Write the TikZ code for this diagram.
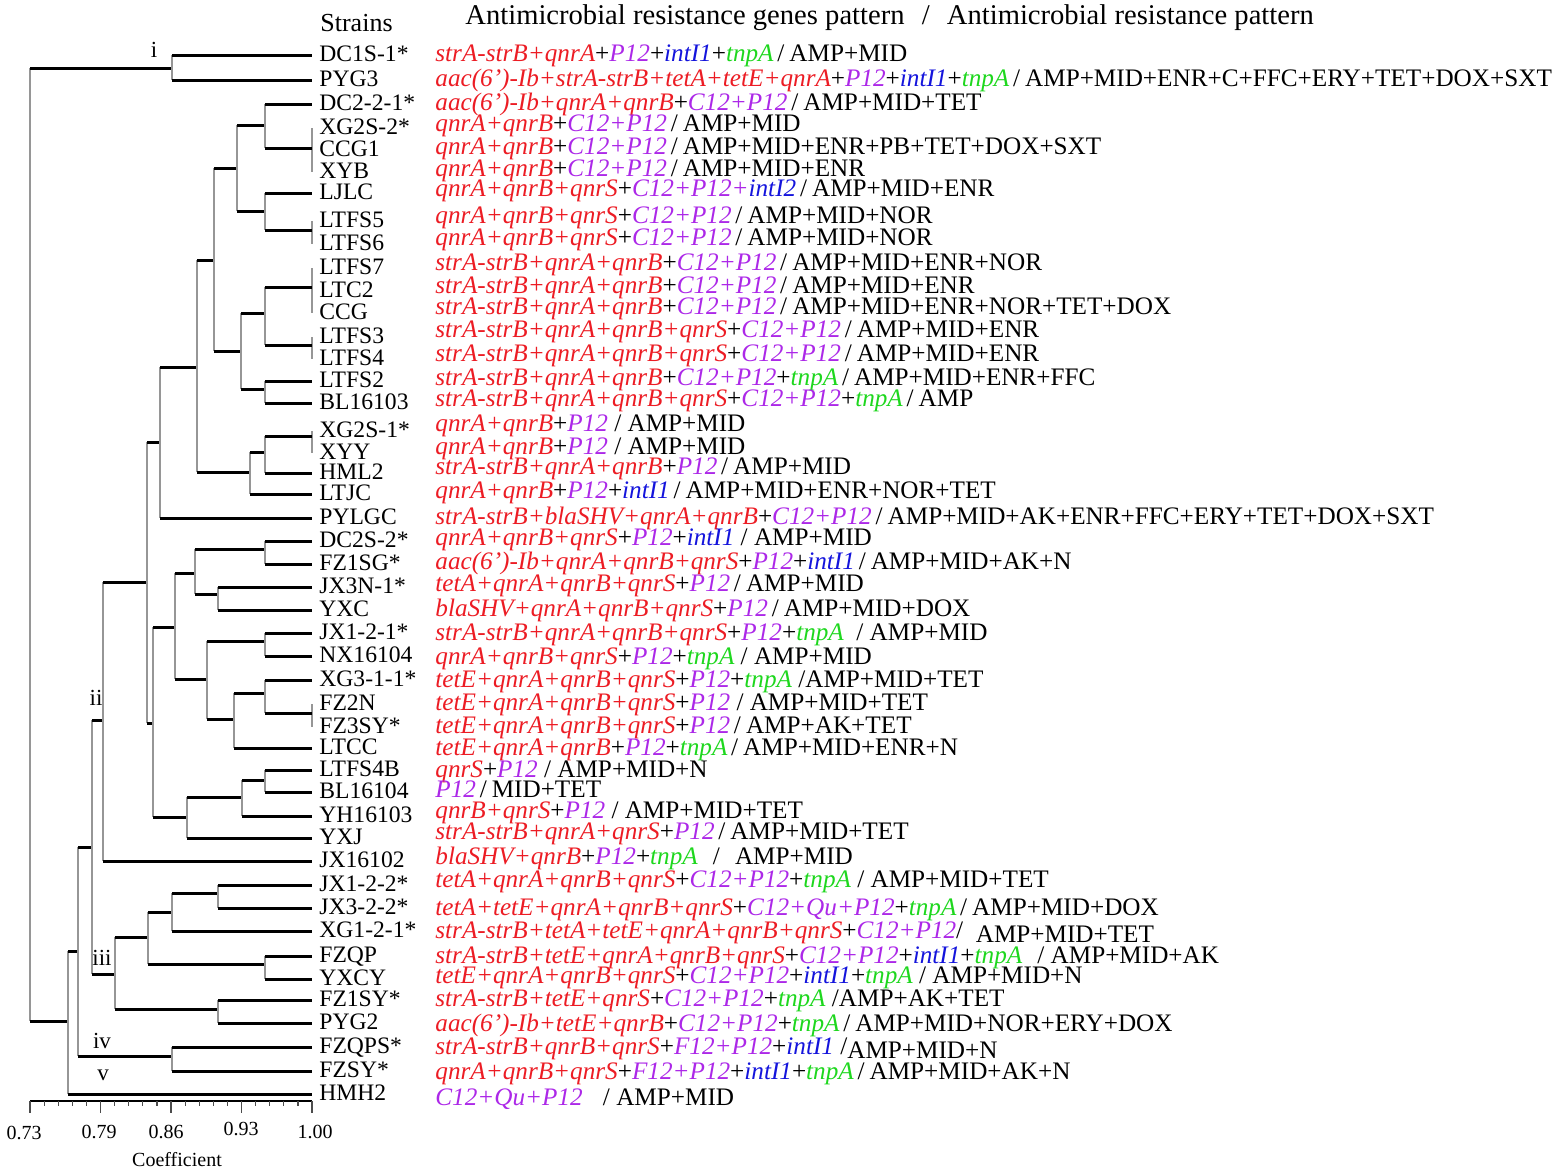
\documentclass[tikz,border=0pt]{standalone}
\usepackage{fontspec}
\setmainfont{Liberation Serif}
\usepackage{xcolor}
\usepackage{tikz}
\definecolor{genred}{RGB}{236,28,36}
\definecolor{genpur}{RGB}{172,40,232}
\definecolor{genblu}{RGB}{20,20,220}
\definecolor{gengrn}{RGB}{30,215,30}
\definecolor{stemgray}{RGB}{150,150,150}
\tikzstyle{hbranch} = [line width=1.5pt, black]
\tikzstyle{vbranch} = [line width=0.75pt, stemgray]
\tikzstyle{strainlbl} = [anchor=west, inner xsep=3.5pt, inner ysep=0pt, text height=0.66em, text depth=0pt, font=\fontsize{11.8}{13}\selectfont]
\tikzstyle{genepat} = [anchor=west, inner sep=0pt, text height=0.66em, text depth=0pt, font=\fontsize{12.6}{14}\selectfont]
\tikzstyle{headlbl} = [anchor=west, inner sep=0pt, text height=0.66em, text depth=0pt]
\tikzstyle{clusterlbl} = [inner sep=0pt, font=\fontsize{11.5}{13}\selectfont]
\tikzstyle{axlbl} = [inner sep=0pt, font=\fontsize{10}{12}\selectfont]
\tikzstyle{axtick} = [line width=0.6pt, black!70]
\newcommand{\gRed}[1]{\textcolor{genred}{\itshape #1}}
\newcommand{\gPur}[1]{\textcolor{genpur}{\itshape #1}}
\newcommand{\gBlu}[1]{\textcolor{genblu}{\itshape #1}}
\newcommand{\gGrn}[1]{\textcolor{gengrn}{\itshape #1}}
\newcommand{\slsh}{\hspace{0.15em}/\hspace{0.2em}}
\newcommand{\clade}[3]{%
  \draw[vbranch] (#2 -| #1) -- (#3 -| #1);
  \draw[hbranch] (#2 -| #1) -- (#2);
  \draw[hbranch] (#3 -| #1) -- (#3);}

\begin{document}
\begin{tikzpicture}[x=0.5pt, y=-0.5pt]
    \useasboundingbox (0,0) rectangle (1559,1173);

    % Headings
    \node[headlbl, font=\fontsize{13}{15}\selectfont] (strhead) at (320,25) {Strains};
    \node[headlbl, font=\fontsize{14.3}{16}\selectfont] (pathead) at (465,18) {Antimicrobial resistance genes pattern\hspace{0.6em}/\hspace{0.6em}Antimicrobial resistance pattern};

    % Strains
    \node[strainlbl] (s1) at (312,55) {DC1S-1*};
    \node[strainlbl] (s2) at (312,80) {PYG3};
    \node[strainlbl] (s3) at (312,104) {DC2-2-1*};
    \node[strainlbl] (s4) at (312,128) {XG2S-2*};
    \node[strainlbl] (s5) at (312,150) {CCG1};
    \node[strainlbl] (s6) at (312,172) {XYB};
    \node[strainlbl] (s7) at (312,193) {LJLC};
    \node[strainlbl] (s8) at (312,221) {LTFS5};
    \node[strainlbl] (s9) at (312,244) {LTFS6};
    \node[strainlbl] (s10) at (312,268) {LTFS7};
    \node[strainlbl] (s11) at (312,291) {LTC2};
    \node[strainlbl] (s12) at (312,313) {CCG};
    \node[strainlbl] (s13) at (312,337) {LTFS3};
    \node[strainlbl] (s14) at (312,359) {LTFS4};
    \node[strainlbl] (s15) at (312,381) {LTFS2};
    \node[strainlbl] (s16) at (312,403) {BL16103};
    \node[strainlbl] (s17) at (312,431) {XG2S-1*};
    \node[strainlbl] (s18) at (312,453) {XYY};
    \node[strainlbl] (s19) at (312,473) {HML2};
    \node[strainlbl] (s20) at (312,494) {LTJC};
    \node[strainlbl] (s21) at (312,518) {PYLGC};
    \node[strainlbl] (s22) at (312,541) {DC2S-2*};
    \node[strainlbl] (s23) at (312,564) {FZ1SG*};
    \node[strainlbl] (s24) at (312,587) {JX3N-1*};
    \node[strainlbl] (s25) at (312,610) {YXC};
    \node[strainlbl] (s26) at (312,633) {JX1-2-1*};
    \node[strainlbl] (s27) at (312,656) {NX16104};
    \node[strainlbl] (s28) at (312,680) {XG3-1-1*};
    \node[strainlbl] (s29) at (312,704) {FZ2N};
    \node[strainlbl] (s30) at (312,727) {FZ3SY*};
    \node[strainlbl] (s31) at (312,748) {LTCC};
    \node[strainlbl] (s32) at (312,770) {LTFS4B};
    \node[strainlbl] (s33) at (312,792) {BL16104};
    \node[strainlbl] (s34) at (312,816) {YH16103};
    \node[strainlbl] (s35) at (312,838) {YXJ};
    \node[strainlbl] (s36) at (312,861) {JX16102};
    \node[strainlbl] (s37) at (312,885) {JX1-2-2*};
    \node[strainlbl] (s38) at (312,908) {JX3-2-2*};
    \node[strainlbl] (s39) at (312,931) {XG1-2-1*};
    \node[strainlbl] (s40) at (312,956) {FZQP};
    \node[strainlbl] (s41) at (312,979) {YXCY};
    \node[strainlbl] (s42) at (312,1000) {FZ1SY*};
    \node[strainlbl] (s43) at (312,1023) {PYG2};
    \node[strainlbl] (s44) at (312,1047) {FZQPS*};
    \node[strainlbl] (s45) at (312,1071) {FZSY*};
    \node[strainlbl] (s46) at (312,1094) {HMH2};

    % Gene / resistance patterns
    \node[genepat] (p1) at (435,55) {\gRed{strA-strB+qnrA}+\gPur{P12}+\gBlu{intI1}+\gGrn{tnpA}\slsh AMP+MID};
    \node[genepat] (p2) at (435,80) {\gRed{aac(6’)-Ib+strA-strB+tetA+tetE+qnrA}+\gPur{P12}+\gBlu{intI1}+\gGrn{tnpA}\slsh AMP+MID+ENR+C+FFC+ERY+TET+DOX+SXT};
    \node[genepat] (p3) at (435,104) {\gRed{aac(6’)-Ib+qnrA+qnrB}+\gPur{C12+P12}\slsh AMP+MID+TET};
    \node[genepat] (p4) at (435,125) {\gRed{qnrA+qnrB}+\gPur{C12+P12}\slsh AMP+MID};
    \node[genepat] (p5) at (435,148) {\gRed{qnrA+qnrB}+\gPur{C12+P12}\slsh AMP+MID+ENR+PB+TET+DOX+SXT};
    \node[genepat] (p6) at (435,170) {\gRed{qnrA+qnrB}+\gPur{C12+P12}\slsh AMP+MID+ENR};
    \node[genepat] (p7) at (435,190) {\gRed{qnrA+qnrB+qnrS}+\gPur{C12+P12+}\gBlu{intI2}\slsh AMP+MID+ENR};
    \node[genepat] (p8) at (435,217) {\gRed{qnrA+qnrB+qnrS}+\gPur{C12+P12}\slsh AMP+MID+NOR};
    \node[genepat] (p9) at (435,239) {\gRed{qnrA+qnrB+qnrS}+\gPur{C12+P12}\slsh AMP+MID+NOR};
    \node[genepat] (p10) at (435,264) {\gRed{strA-strB+qnrA+qnrB}+\gPur{C12+P12}\slsh AMP+MID+ENR+NOR};
    \node[genepat] (p11) at (435,287) {\gRed{strA-strB+qnrA+qnrB}+\gPur{C12+P12}\slsh AMP+MID+ENR};
    \node[genepat] (p12) at (435,308) {\gRed{strA-strB+qnrA+qnrB}+\gPur{C12+P12}\slsh AMP+MID+ENR+NOR+TET+DOX};
    \node[genepat] (p13) at (435,331) {\gRed{strA-strB+qnrA+qnrB+qnrS}+\gPur{C12+P12}\slsh AMP+MID+ENR};
    \node[genepat] (p14) at (435,355) {\gRed{strA-strB+qnrA+qnrB+qnrS}+\gPur{C12+P12}\slsh AMP+MID+ENR};
    \node[genepat] (p15) at (435,379) {\gRed{strA-strB+qnrA+qnrB}+\gPur{C12+P12}+\gGrn{tnpA}\slsh AMP+MID+ENR+FFC};
    \node[genepat] (p16) at (435,400) {\gRed{strA-strB+qnrA+qnrB+qnrS}+\gPur{C12+P12}+\gGrn{tnpA}\slsh AMP};
    \node[genepat] (p17) at (435,425) {\gRed{qnrA+qnrB}+\gPur{P12} / AMP+MID};
    \node[genepat] (p18) at (435,448) {\gRed{qnrA+qnrB}+\gPur{P12} / AMP+MID};
    \node[genepat] (p19) at (435,468) {\gRed{strA-strB+qnrA+qnrB}+\gPur{P12}\slsh AMP+MID};
    \node[genepat] (p20) at (435,492) {\gRed{qnrA+qnrB}+\gPur{P12}+\gBlu{intI1}\slsh AMP+MID+ENR+NOR+TET};
    \node[genepat] (p21) at (435,518) {\gRed{strA-strB+blaSHV+qnrA+qnrB}+\gPur{C12+P12}\slsh AMP+MID+AK+ENR+FFC+ERY+TET+DOX+SXT};
    \node[genepat] (p22) at (435,539) {\gRed{qnrA+qnrB+qnrS}+\gPur{P12}+\gBlu{intI1} / AMP+MID};
    \node[genepat] (p23) at (435,563) {\gRed{aac(6’)-Ib+qnrA+qnrB+qnrS}+\gPur{P12}+\gBlu{intI1}\slsh AMP+MID+AK+N};
    \node[genepat] (p24) at (435,585) {\gRed{tetA+qnrA+qnrB+qnrS}+\gPur{P12}\slsh AMP+MID};
    \node[genepat] (p25) at (435,610) {\gRed{blaSHV+qnrA+qnrB+qnrS}+\gPur{P12}\slsh AMP+MID+DOX};
    \node[genepat] (p26) at (435,634) {\gRed{strA-strB+qnrA+qnrB+qnrS}+\gPur{P12}+\gGrn{tnpA}\hspace{0.5em}/ AMP+MID};
    \node[genepat] (p27) at (435,658) {\gRed{qnrA+qnrB+qnrS}+\gPur{P12}+\gGrn{tnpA} / AMP+MID};
    \node[genepat] (p28) at (435,681) {\gRed{tetE+qnrA+qnrB+qnrS}+\gPur{P12}+\gGrn{tnpA} /AMP+MID+TET};
    \node[genepat] (p29) at (435,704) {\gRed{tetE+qnrA+qnrB+qnrS}+\gPur{P12} / AMP+MID+TET};
    \node[genepat] (p30) at (435,727) {\gRed{tetE+qnrA+qnrB+qnrS}+\gPur{P12}\slsh AMP+AK+TET};
    \node[genepat] (p31) at (435,749) {\gRed{tetE+qnrA+qnrB}+\gPur{P12}+\gGrn{tnpA}\slsh AMP+MID+ENR+N};
    \node[genepat] (p32) at (435,771) {\gRed{qnrS}+\gPur{P12} / AMP+MID+N};
    \node[genepat] (p33) at (435,791) {\gPur{P12}\slsh MID+TET};
    \node[genepat] (p34) at (435,812) {\gRed{qnrB+qnrS}+\gPur{P12} / AMP+MID+TET};
    \node[genepat] (p35) at (435,833) {\gRed{strA-strB+qnrA+qnrS}+\gPur{P12}\slsh AMP+MID+TET};
    \node[genepat] (p36) at (435,858) {\gRed{blaSHV+qnrB}+\gPur{P12}+\gGrn{tnpA}\hspace{0.6em}/\hspace{0.6em}AMP+MID};
    \node[genepat] (p37) at (435,881) {\gRed{tetA+qnrA+qnrB+qnrS}+\gPur{C12+P12}+\gGrn{tnpA} / AMP+MID+TET};
    \node[genepat] (p38) at (435,909) {\gRed{tetA+tetE+qnrA+qnrB+qnrS}+\gPur{C12+Qu+P12}+\gGrn{tnpA}\slsh AMP+MID+DOX};
    \node[genepat] (p39) at (435,932) {\gRed{strA-strB+tetA+tetE+qnrA+qnrB+qnrS}+\gPur{C12+P12}/\hspace{0.5em}\raisebox{-2pt}{AMP+MID+TET}};
    \node[genepat] (p40) at (435,957) {\gRed{strA-strB+tetE+qnrA+qnrB+qnrS}+\gPur{C12+P12}+\gBlu{intI1}+\gGrn{tnpA}\hspace{0.6em}/ AMP+MID+AK};
    \node[genepat] (p41) at (435,977) {\gRed{tetE+qnrA+qnrB+qnrS}+\gPur{C12+P12}+\gBlu{intI1}+\gGrn{tnpA} / AMP+MID+N};
    \node[genepat] (p42) at (435,1000) {\gRed{strA-strB+tetE+qnrS}+\gPur{C12+P12}+\gGrn{tnpA} /AMP+AK+TET};
    \node[genepat] (p43) at (435,1025) {\gRed{aac(6’)-Ib+tetE+qnrB}+\gPur{C12+P12}+\gGrn{tnpA}\slsh AMP+MID+NOR+ERY+DOX};
    \node[genepat] (p44) at (435,1048) {\gRed{strA-strB+qnrB+qnrS}+\gPur{F12+P12}+\gBlu{intI1} /\raisebox{-2pt}{AMP+MID+N}};
    \node[genepat] (p45) at (435,1073) {\gRed{qnrA+qnrB+qnrS}+\gPur{F12+P12}+\gBlu{intI1}+\gGrn{tnpA}\slsh AMP+MID+AK+N};
    \node[genepat] (p46) at (435,1099) {\gPur{C12+Qu+P12}\hspace{0.8em}/ AMP+MID};

    % Clade joints
    \coordinate (root) at (30,0);
    \coordinate (cI) at (172,68);
    \coordinate (k1) at (68,1021);
    \coordinate (k2) at (78,951);
    \coordinate (cIV) at (172,1056);
    \coordinate (k3) at (92,847);
    \coordinate (cII) at (103,720);
    \coordinate (k4) at (147,582);
    \coordinate (k5) at (160,442);
    \coordinate (k6) at (197,367);
    \coordinate (k7) at (214,260);
    \coordinate (k8) at (237,168);
    \coordinate (k9) at (265,125);
    \coordinate (k10) at (265,211);
    \coordinate (k11) at (241,351);
    \coordinate (k12) at (265,313);
    \coordinate (k13) at (265,389);
    \coordinate (k14) at (250,472);
    \coordinate (k15) at (265,452);
    \coordinate (k16) at (153,723);
    \coordinate (k17) at (175,627);
    \coordinate (k18) at (195,573);
    \coordinate (k19) at (265,549);
    \coordinate (k20) at (218,594);
    \coordinate (k21) at (207,679);
    \coordinate (k22) at (265,641);
    \coordinate (k23) at (234,719);
    \coordinate (k24) at (265,693);
    \coordinate (k25) at (187,817);
    \coordinate (k26) at (242,797);
    \coordinate (k27) at (265,780);
    \coordinate (cIII) at (115,974);
    \coordinate (k28) at (148,937);
    \coordinate (k29) at (172,912);
    \coordinate (k30) at (218,893);
    \coordinate (k31) at (265,964);
    \coordinate (k32) at (218,1009);
    % identical strains
    \coordinate (same1) at (312,148);
    \coordinate (same2) at (312,230);
    \coordinate (same3) at (312,287);
    \coordinate (same4) at (312,345);
    \coordinate (same5) at (312,436);
    \coordinate (same6) at (312,713);
    \draw[vbranch] (s4.west) -- (s6.west);
    \draw[vbranch] (s8.west) -- (s9.west);
    \draw[vbranch] (s10.west) -- (s12.west);
    \draw[vbranch] (s13.west) -- (s14.west);
    \draw[vbranch] (s17.west) -- (s18.west);
    \draw[vbranch] (s29.west) -- (s30.west);

    % Tree
    \clade{root}{cI}{k1}
    \clade{cI}{s1.west}{s2.west}
    \clade{k1}{k2}{s46.west}
    \clade{k2}{k3}{cIV}
    \clade{cIV}{s44.west}{s45.west}
    \clade{k3}{cII}{cIII}
    \clade{cII}{k4}{s36.west}
    \clade{k4}{k5}{k16}
    \clade{k5}{k6}{s21.west}
    \clade{k6}{k7}{k14}
    \clade{k7}{k8}{k11}
    \clade{k8}{k9}{k10}
    \clade{k9}{s3.west}{same1}
    \clade{k10}{s7.west}{same2}
    \clade{k11}{k12}{k13}
    \clade{k12}{same3}{same4}
    \clade{k13}{s15.west}{s16.west}
    \clade{k14}{k15}{s20.west}
    \clade{k15}{same5}{s19.west}
    \clade{k16}{k17}{k25}
    \clade{k17}{k18}{k21}
    \clade{k18}{k19}{k20}
    \clade{k19}{s22.west}{s23.west}
    \clade{k20}{s24.west}{s25.west}
    \clade{k21}{k22}{k23}
    \clade{k22}{s26.west}{s27.west}
    \clade{k23}{k24}{s31.west}
    \clade{k24}{s28.west}{same6}
    \clade{k25}{k26}{s35.west}
    \clade{k26}{k27}{s34.west}
    \clade{k27}{s32.west}{s33.west}
    \clade{cIII}{k28}{k32}
    \clade{k28}{k29}{k31}
    \clade{k29}{k30}{s39.west}
    \clade{k30}{s37.west}{s38.west}
    \clade{k31}{s40.west}{s41.west}
    \clade{k32}{s42.west}{s43.west}

    % Cluster labels
    \node[clusterlbl] (lI) at (154,50) {i};
    \node[clusterlbl] (lII) at (96,698) {ii};
    \node[clusterlbl] (lIII) at (102,958) {iii};
    \node[clusterlbl] (lIV) at (102,1041) {iv};
    \node[clusterlbl] (lV) at (103,1075) {v};

    % Coefficient axis
    \coordinate (ax0) at (30,1101);
    \coordinate (ax1) at (312,1101);
    \draw[line width=1pt] (ax0) -- (ax1);
    \foreach \k in {0,...,20}
        \draw[axtick] ({30+14.1*\k},1101) -- ++(0,5);
    \foreach \k in {0,5,10,15,20}
        \draw[axtick] ({30+14.1*\k},1101) -- ++(0,12);
    \node[axlbl] (t73) at (24,1133) {0.73};
    \node[axlbl] (t79) at (99,1132) {0.79};
    \node[axlbl] (t86) at (166,1132) {0.86};
    \node[axlbl] (t93) at (241,1129) {0.93};
    \node[axlbl] (t100) at (315,1132) {1.00};
    \node[axlbl] (coef) at (177,1160) {Coefficient};

\end{tikzpicture}
\end{document}
